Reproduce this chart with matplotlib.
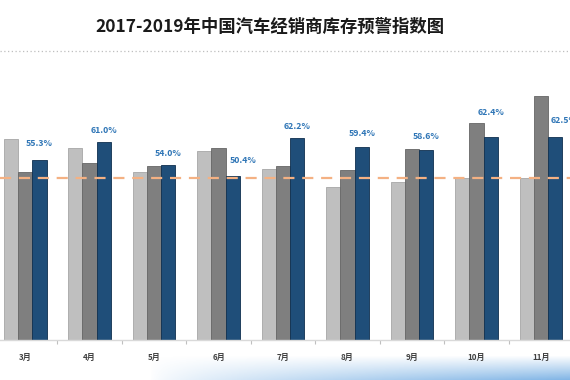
import numpy as np
import matplotlib
matplotlib.use("Agg")
import matplotlib.pyplot as plt

plt.rcParams['font.family'] = ['Noto Sans CJK SC', 'DejaVu Sans']

# ---- data ----
months = ["3月", "4月", "5月", "6月", "7月", "8月", "9月", "10月", "11月"]
idx_2017 = [61.8, 59.0, 51.6, 58.2, 52.5, 47.0, 48.7, 49.8, 49.8]
idx_2018 = [51.8, 54.4, 53.6, 59.0, 53.6, 52.3, 58.8, 66.7, 75.2]
idx_2019 = [55.3, 61.0, 54.0, 50.4, 62.2, 59.4, 58.6, 62.4, 62.5]
warning_line = 50.0
title = "2017-2019年中国汽车经销商库存预警指数图"

# label offsets (pixels) for the 2019 value labels
label_dy = [17, 11, 11, 16, 11, 13, 13, 25, 16]
label_dx = [0, 0, 0, 10, 0, 0, 0, 0, 9]

c17, c18, c19 = "#BFBFBF", "#7F7F7F", "#1F4E79"
e17, e18, e19 = "#A6A6A6", "#666666", "#0F2F4F"

fig = plt.figure(figsize=(5.7, 3.8), dpi=100)
fig.patch.set_facecolor("white")

# decorative bottom gradient swoosh
bg = fig.add_axes([0, 0, 1, 0.08])
bg.set_axis_off()
H, W = 30, 570
yy, xx = np.mgrid[0:H, 0:W]
alpha = np.clip((xx - 150) / 420.0, 0, 1) ** 0.7 * np.clip((yy - 6) / 24.0, 0, 1) ** 1.0
img = np.zeros((H, W, 4))
img[..., 0] = 0.40
img[..., 1] = 0.65
img[..., 2] = 0.88
img[..., 3] = alpha * 0.85
bg.imshow(img, aspect="auto", extent=(0, 1, 0, 1), origin="upper")
bg.set_xlim(0, 1)
bg.set_ylim(0, 1)

ax = fig.add_axes([0, 40 / 380, 1, 280 / 380])
ax.set_facecolor("none")

x = np.arange(len(months))
w = 0.222
ax.bar(x - w, idx_2017, width=w, color=c17, edgecolor=e17, linewidth=0.6, zorder=2)
ax.bar(x, idx_2018, width=w, color=c18, edgecolor=e18, linewidth=0.6, zorder=2)
ax.bar(x + w, idx_2019, width=w, color=c19, edgecolor=e19, linewidth=0.6, zorder=2)

ax.axhline(warning_line, color="#F4B183", linestyle=(0, (5, 3.5)), linewidth=1.6, zorder=3)

for i, v in enumerate(idx_2019):
    ax.annotate(f"{v:.1f}%", xy=(x[i] + w, v), xytext=(label_dx[i], label_dy[i]),
                textcoords="offset pixels", ha="center", va="center",
                fontsize=6.3, fontweight="bold", color="#2E75B6", zorder=4)

ax.set_xlim(-0.388, 8.45)
ax.set_ylim(0, 280 / 3.25)

for s in ["top", "right", "left"]:
    ax.spines[s].set_visible(False)
ax.spines["bottom"].set_color("#D9D9D9")
ax.spines["bottom"].set_linewidth(1.0)
ax.set_yticks([])

ax.set_xticks(x)
ax.set_xticklabels(months, fontsize=5.8, color="#404040", fontweight="bold")
ax.tick_params(axis="x", which="major", length=0, pad=9)
ax.set_xticks(x[:-1] + 0.5, minor=True)
ax.tick_params(axis="x", which="minor", length=3, color="#BFBFBF", width=0.8)

# title and dotted separator
fig.text(270 / 570, 1 - 27 / 380, title, ha="center", va="center",
         fontsize=12.5, fontweight="bold", color="#1A1A1A")
fig.add_artist(plt.Line2D([0, 1], [1 - 51 / 380, 1 - 51 / 380], transform=fig.transFigure,
                          color="#BFBFBF", linestyle=(0, (1, 2)), linewidth=0.9))

fig.savefig("out.png", dpi=100, facecolor="white")
